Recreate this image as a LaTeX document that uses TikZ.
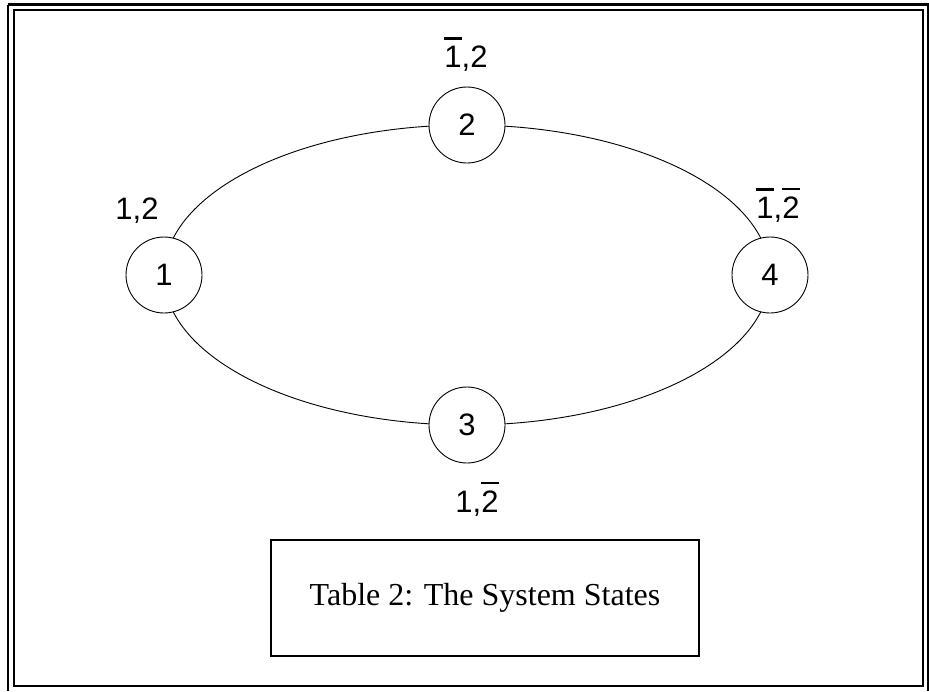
\documentclass[tikz,border=0pt]{standalone}
\usepackage{fontspec}
\setmainfont{Liberation Serif}
\newfontfamily\helv{Liberation Sans}
\usetikzlibrary{backgrounds}
\newcommand{\obar}[1]{\hbox{\vbox{\hrule height 2.6pt \kern 6pt \hbox{#1}}}}
\tikzset{
  state/.style={circle, draw=black, line width=0.9pt, fill=white, minimum size=76pt, inner sep=0pt, font=\helv\fontsize{31}{34}\selectfont},
  lbl/.style={inner sep=0pt, font=\helv\fontsize{31}{34}\selectfont},
  link/.style={draw=black, line width=0.9pt},
  frame/.style={draw=black, line width=2.6pt},
  capbox/.style={draw=black, line width=2pt, minimum width=428pt, minimum height=116pt, inner sep=0pt, font=\fontsize{32}{35}\selectfont}
}
\begin{document}
\begin{tikzpicture}[x=1pt,y=-1pt]
\useasboundingbox (0,0) rectangle (929,691);
% double frame
\draw[frame] (8,4.5) -- (929,4.5);
\draw[frame] (8,4.5) -- (8,691);
\draw[frame] (14,10) rectangle (923,686);
\draw[frame] (928,4.5) -- (928,691);
% states
\node[state] (n1) at (164,275) {1};
\node[state] (n2) at (467,125) {2};
\node[state] (n3) at (467,425) {3};
\node[state] (n4) at (770,275) {4};
\begin{pgfonlayer}{background}
\draw[link] (n1.center) .. controls +(0,-82.8) and +(-167.3,0) .. (n2.center);
\draw[link] (n2.center) .. controls +(167.3,0) and +(0,-82.8) .. (n4.center);
\draw[link] (n1.center) .. controls +(0,82.8) and +(-167.3,0) .. (n3.center);
\draw[link] (n3.center) .. controls +(167.3,0) and +(0,82.8) .. (n4.center);
\end{pgfonlayer}
% labels
\node[lbl, anchor=base] (l1) at (137,219) {1,2};
\node[lbl, anchor=base] (l2) at (466,67) {\obar{1},2};
\node[lbl, anchor=base] (l4) at (778,218) {\obar{1},\obar{2}};
\node[lbl, anchor=base] (l3) at (477,512) {1,\obar{2}};
% caption
\node[capbox] (cap) at (485,598) {Table 2: The System States};
\end{tikzpicture}
\end{document}
